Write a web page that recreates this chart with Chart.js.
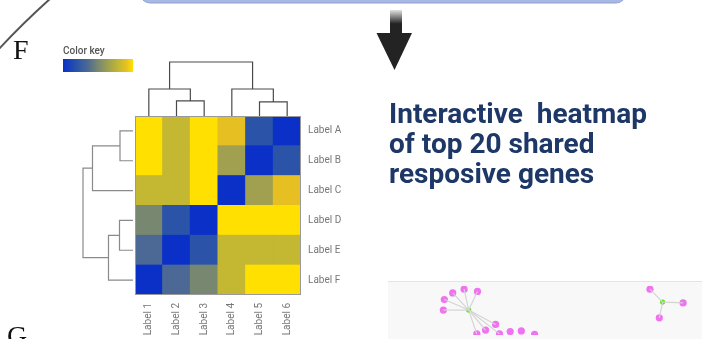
<!DOCTYPE html>
<html>
<head>
<meta charset="utf-8">
<script src="https://cdn.jsdelivr.net/npm/chart.js@4.4.1/dist/chart.umd.min.js"></script>
<style>
  html, body { margin: 0; padding: 0; background: #ffffff; overflow: hidden; }
  #stage { position: relative; width: 725px; height: 339px; }
  #heat { position: absolute; left: 0; top: 0; }
  #deco { position: absolute; left: 0; top: 0; pointer-events: none; }
  #netPanel { position: absolute; left: 388px; top: 281px; width: 314px; height: 58px;
              background: #f8f8f8; border-top: 1px solid #e4e4e4; box-sizing: border-box; }
  #net { position: absolute; left: 0; top: 0; }
</style>
</head>
<body>
<div id="stage">
  <canvas id="heat" width="725" height="339"></canvas>
  <div id="netPanel"><canvas id="net" width="314" height="57"></canvas></div>
  <svg id="deco" width="725" height="339" viewBox="0 0 725 339">
    <defs>
      <linearGradient id="shaftFade" x1="0" y1="0" x2="0" y2="1">
        <stop offset="0" stop-color="#e2e2e2"/>
        <stop offset="0.55" stop-color="#232323"/>
        <stop offset="1" stop-color="#232323"/>
      </linearGradient>
    </defs>
    <!-- panel outline arc at the top left -->
    <path d="M -2 50 Q 22 24 51 -2" fill="none" stroke="#555" stroke-width="2"/>
    <!-- bottom of the box above -->
    <rect x="140" y="-30" width="486" height="33" rx="10" ry="10" fill="#a9b8e2" stroke="#8fa2d6" stroke-width="1"/>
    <!-- arrow -->
    <rect x="390" y="10" width="12" height="25" fill="url(#shaftFade)"/>
    <polygon points="376.5,33 412,33 394.5,70" fill="#232323"/>
    <!-- panel letters -->
    <text x="13" y="59" font-family="Liberation Serif, serif" font-size="28" fill="#111">F</text>
    <text x="7" y="345" font-family="Liberation Serif, serif" font-size="28" fill="#111">G</text>
    <!-- colour key caption -->
    <text x="63" y="53.5" font-family="Roboto, sans-serif" font-weight="500" font-size="10" fill="#555">Color key</text>
    <!-- heading -->
    <g font-family="Roboto, sans-serif" font-weight="700" font-size="28" fill="#1d3767">
      <text x="389" y="123" xml:space="preserve">Interactive  heatmap</text>
      <text x="389" y="153">of top 20 shared</text>
      <text x="389" y="182.5">resposive genes</text>
    </g>
  </svg>
</div>
<script>
// ---- heatmap data ----
const colLabels = ['Label 1', 'Label 2', 'Label 3', 'Label 4', 'Label 5', 'Label 6'];
const rowLabels = ['Label A', 'Label B', 'Label C', 'Label D', 'Label E', 'Label F'];

// scaled expression per row (0 = low, 1 = high)
const rowA = [1.00, 0.80, 1.00, 0.90, 0.20, 0.00];
const rowB = [1.00, 0.80, 1.00, 0.65, 0.00, 0.20];
const rowC = [0.80, 0.80, 1.00, 0.00, 0.65, 0.90];
const rowD = [0.50, 0.20, 0.00, 1.00, 1.00, 1.00];
const rowE = [0.35, 0.00, 0.20, 0.80, 0.80, 0.80];
const rowF = [0.00, 0.35, 0.50, 0.80, 1.00, 1.00];

// hierarchical clustering: [a, b, distance]; ids >= 6 are earlier merges
const colMerges = [[1, 2, 0.28], [4, 5, 0.26], [0, 6, 0.50], [3, 7, 0.50], [8, 9, 1.00]];
const rowMerges = [[0, 1, 0.26], [6, 2, 0.81], [3, 4, 0.27], [8, 5, 0.49], [7, 9, 1.00]];

// colour scale stops (value -> colour)
const keyStops = [0.00, 0.20, 0.35, 0.50, 0.65, 0.80, 0.90, 1.00];
const keyColors = ['#0a30c8', '#2b54a8', '#4b6994', '#788870', '#a0a050', '#c4b832', '#e6c022', '#ffe000'];

// ---- network data ----
const nodeX = [78.7, 52.7, 53.7, 62.3, 74.0, 87.7, 106.3, 96.0, 87.0, 110.3, 121.3, 132.7, 146.3, 277.7, 264.7, 298.7, 274.3];
const nodeY = [28.0, 28.0, 15.7, 8.0, 3.7, 6.3, 44.7, 51.3, 55.7, 55.7, 53.0, 52.3, 56.3, 18.7, 3.7, 19.7, 37.0];
const hubNodes = [0, 13];
const edgeFrom = [0, 0, 0, 0, 0, 0, 0, 0, 0, 13, 13, 13];
const edgeTo   = [1, 2, 3, 4, 5, 6, 7, 8, 9, 14, 15, 16];

const matrix = [rowA, rowB, rowC, rowD, rowE, rowF];

function hexToRgb(h) {
  return [parseInt(h.slice(1, 3), 16), parseInt(h.slice(3, 5), 16), parseInt(h.slice(5, 7), 16)];
}
function colorFor(v) {
  for (let i = 1; i < keyStops.length; i++) {
    if (v <= keyStops[i]) {
      const t = (v - keyStops[i - 1]) / (keyStops[i] - keyStops[i - 1]);
      const a = hexToRgb(keyColors[i - 1]), b = hexToRgb(keyColors[i]);
      const c = a.map((x, k) => Math.round(x + (b[k] - x) * t));
      return 'rgb(' + c.join(',') + ')';
    }
  }
  return keyColors[keyColors.length - 1];
}

// draw a dendrogram; leafPos(i) gives the leaf pixel along the axis,
// toPoint(pos, depth) maps (axis pixel, merge depth) to canvas x/y
function drawTree(ctx, merges, n, leafPos, toPoint) {
  const pos = [], depth = [];
  for (let i = 0; i < n; i++) { pos.push(leafPos(i)); depth.push(0); }
  ctx.beginPath();
  merges.forEach(([a, b, d]) => {
    const p1 = toPoint(pos[a], depth[a]), p2 = toPoint(pos[a], d);
    const p3 = toPoint(pos[b], d), p4 = toPoint(pos[b], depth[b]);
    ctx.moveTo(p1[0], p1[1]); ctx.lineTo(p2[0], p2[1]);
    ctx.lineTo(p3[0], p3[1]); ctx.lineTo(p4[0], p4[1]);
    pos.push((pos[a] + pos[b]) / 2); depth.push(d);
  });
  ctx.stroke();
}

const heatDecor = {
  id: 'heatDecor',
  afterDraw(chart) {
    const ctx = chart.ctx, area = chart.chartArea;
    const xs = chart.scales.x, ys = chart.scales.yl;
    ctx.save();
    // outline
    ctx.strokeStyle = '#9a9a9a'; ctx.lineWidth = 1;
    ctx.strokeRect(area.left + 0.5, area.top + 0.5, area.width - 1, area.height - 1);
    // column dendrogram
    ctx.strokeStyle = '#4a4a4a'; ctx.lineWidth = 1.2;
    drawTree(ctx, colMerges, colLabels.length, i => xs.getPixelForValue(i),
      (p, d) => [p, area.top - 54 * d]);
    // row dendrogram
    ctx.strokeStyle = '#8a8a8a';
    drawTree(ctx, rowMerges, rowLabels.length, i => ys.getPixelForValue(i),
      (p, d) => [area.left - 2 - 50 * d, p]);
    // colour key bar
    const kx = 63, ky = 59, kw = 70, kh = 13;
    const g = ctx.createLinearGradient(kx, 0, kx + kw, 0);
    keyStops.forEach((s, i) => g.addColorStop(s, keyColors[i]));
    ctx.fillStyle = g;
    ctx.fillRect(kx, ky, kw, kh);
    ctx.restore();
  }
};

const heatDatasets = matrix.map((row, i) => ({
  label: rowLabels[i],
  data: row.map(() => 1),
  backgroundColor: row.map(colorFor),
  borderWidth: 0,
  barPercentage: 1,
  categoryPercentage: 1,
  inflateAmount: 0.5
})).reverse();

new Chart(document.getElementById('heat'), {
  type: 'bar',
  data: { labels: colLabels, datasets: heatDatasets },
  options: {
    responsive: false,
    animation: false,
    devicePixelRatio: 1,
    layout: { padding: { left: 135, top: 116, right: 364, bottom: 0 } },
    plugins: { legend: { display: false }, tooltip: { enabled: false } },
    scales: {
      x: {
        stacked: true,
        grid: { display: false, drawTicks: false }, border: { display: false },
        ticks: { minRotation: 90, maxRotation: 90, padding: 8, color: '#777',
                 font: { family: 'Roboto', size: 10 } },
        afterFit: s => { s.height = 44; }
      },
      y: { stacked: true, min: 0, max: 6, display: false },
      yl: {
        type: 'category', labels: rowLabels, position: 'right', offset: true,
        grid: { display: false, drawTicks: false }, border: { display: false },
        ticks: { padding: 7, color: '#777', font: { family: 'Roboto', size: 10 } },
        afterFit: s => { s.width = 60; }
      }
    }
  },
  plugins: [heatDecor]
});

// ---- gene network ----
const edgeSets = edgeFrom.map((f, i) => ({
  type: 'line',
  data: [{ x: nodeX[f], y: nodeY[f] }, { x: nodeX[edgeTo[i]], y: nodeY[edgeTo[i]] }],
  borderColor: '#d4d4d4', borderWidth: 1.2, pointRadius: 0, showLine: true
}));
const geneNodes = nodeX.map((x, i) => ({ x: x, y: nodeY[i] })).filter((_, i) => !hubNodes.includes(i));
const hubPoints = hubNodes.map(i => ({ x: nodeX[i], y: nodeY[i] }));

new Chart(document.getElementById('net'), {
  type: 'scatter',
  data: {
    datasets: [
      ...edgeSets,
      { data: geneNodes, pointRadius: 3.6, backgroundColor: '#f072f0', borderWidth: 0 },
      { data: hubPoints, pointRadius: 2.6, backgroundColor: '#5fe61c', borderWidth: 0 }
    ]
  },
  options: {
    responsive: false,
    animation: false,
    devicePixelRatio: 1,
    layout: { padding: 0 },
    plugins: { legend: { display: false }, tooltip: { enabled: false } },
    scales: {
      x: { type: 'linear', min: 0, max: 314, display: false },
      y: { type: 'linear', min: 0, max: 57, reverse: true, display: false }
    }
  }
});
</script>
</body>
</html>
